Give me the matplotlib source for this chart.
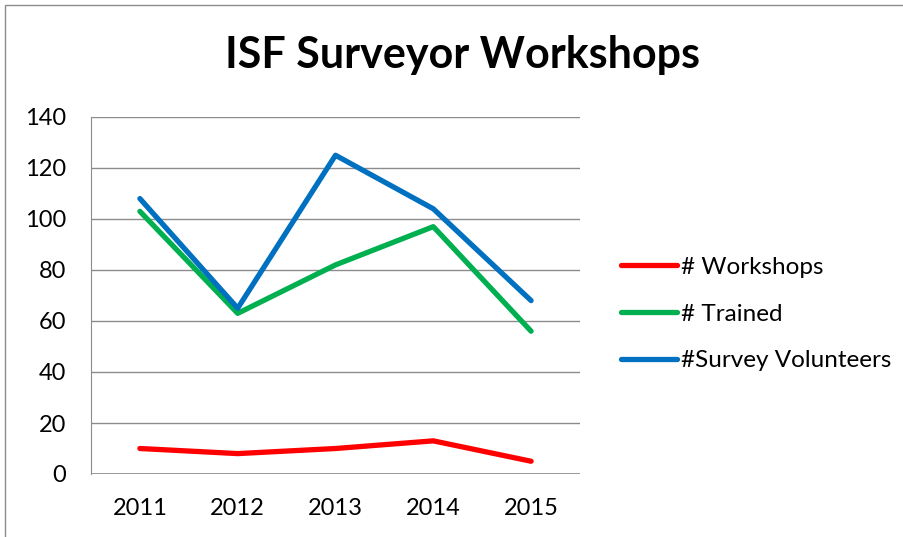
import matplotlib.pyplot as plt
from matplotlib.patches import Rectangle

plt.rcParams['font.family'] = ['Lato', 'DejaVu Sans']

years = ['2011', '2012', '2013', '2014', '2015']
workshops = [10, 8, 10, 13, 5]
trained = [103, 63, 82, 97, 56]
volunteers = [108, 65, 125, 104, 68]

fig = plt.figure(figsize=(9.04, 5.37), dpi=100, facecolor='w')
ax = fig.add_axes([91 / 904, 1 - 474 / 537, 489 / 904, 357 / 537])

x = range(len(years))
ax.plot(x, workshops, color='#FF0000', lw=3.8, label='# Workshops', solid_capstyle='round')
ax.plot(x, trained, color='#00B050', lw=3.8, label='# Trained', solid_capstyle='round')
ax.plot(x, volunteers, color='#0070C0', lw=3.8, label='#Survey Volunteers', solid_capstyle='round')

ax.set_xlim(-0.5, 4.5)
ax.set_ylim(0, 140)
ax.set_yticks(range(0, 141, 20))
ax.set_xticks(list(x))
ax.set_xticklabels(years)
ax.yaxis.grid(True, color='#8c8c8c', lw=1)
ax.set_axisbelow(True)
for s in ['top', 'right', 'bottom']:
    ax.spines[s].set_visible(False)
ax.spines['left'].set_color('#8c8c8c')
ax.axhline(0, color='#8c8c8c', lw=1.2, zorder=1)
ax.tick_params(length=0, labelsize=17)
ax.tick_params(axis='x', pad=17)
ax.tick_params(axis='y', pad=18)

fig.text(0.512, 1 - 55 / 537, 'ISF Surveyor Workshops', ha='center', va='center',
         fontsize=31, fontweight='bold')

ax.legend(loc='center left', bbox_to_anchor=(609 / 904, 1 - 314 / 537),
          bbox_transform=fig.transFigure, frameon=False, fontsize=17.5,
          handlelength=2.3, handletextpad=0.15, labelspacing=1.05, borderpad=0)

fig.add_artist(Rectangle((5 / 904, -0.1), 1.2, 1 - 5 / 537 + 0.1, transform=fig.transFigure,
                         fill=False, edgecolor='#8c8c8c', lw=1))

fig.savefig('out.png', dpi=100)
